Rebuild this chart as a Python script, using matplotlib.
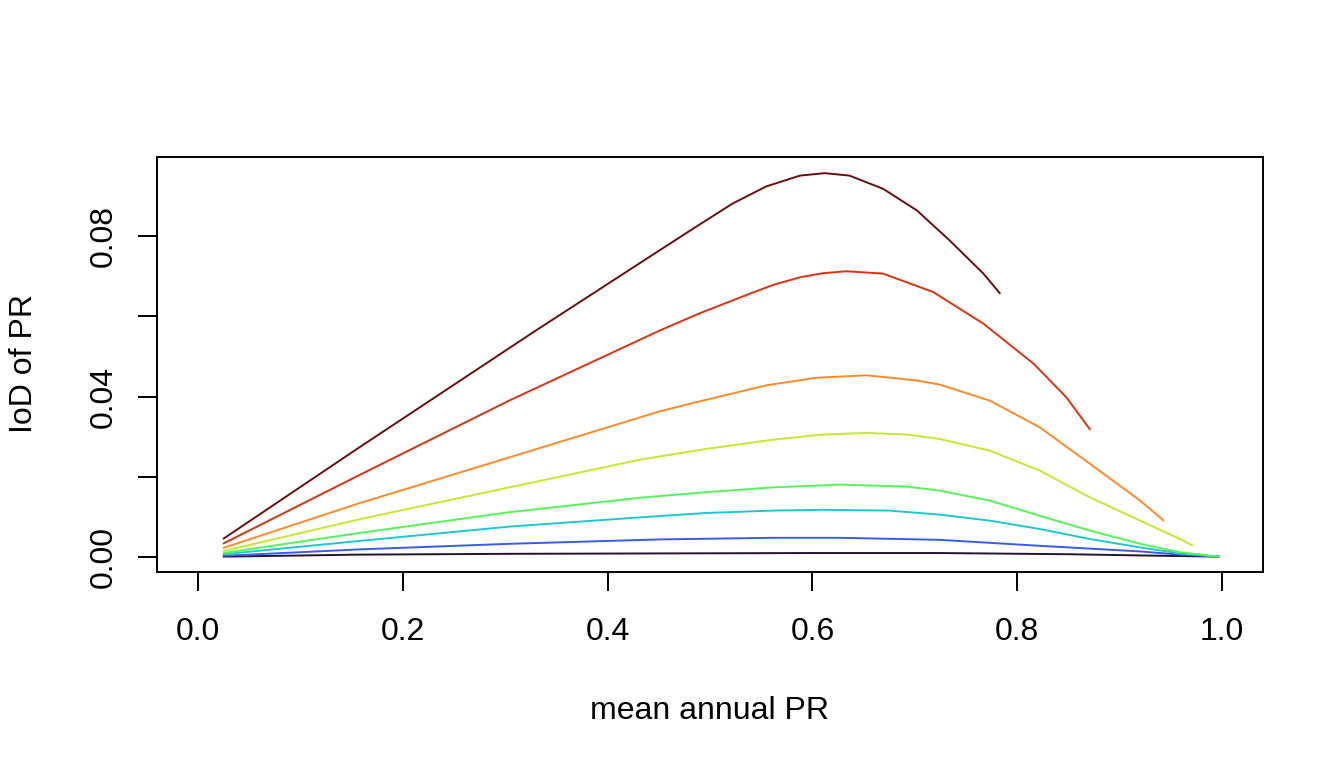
import matplotlib
matplotlib.use("Agg")
import matplotlib.pyplot as plt

plt.rcParams["font.family"] = ["Liberation Sans", "DejaVu Sans"]

# mean annual PR (x) and IoD of PR (y) for each curve
x_black = [0.025, 0.157, 0.304, 0.45, 0.6, 0.724, 0.85, 0.92, 0.997]
iod_black = [0.0, 0.0005, 0.0007, 0.0008, 0.0009, 0.0009, 0.0006, 0.0003, 0.0]

x_blue = [0.025, 0.157, 0.304, 0.451, 0.561, 0.627, 0.724, 0.822, 0.92, 0.959, 0.997]
iod_blue = [0.0002, 0.0018, 0.0032, 0.0043, 0.0047, 0.0047, 0.0042, 0.0027, 0.0013, 0.0005, 0.0]

x_cyan = [0.025, 0.157, 0.304, 0.431, 0.496, 0.561, 0.61, 0.675, 0.724, 0.773, 0.822, 0.871,
          0.92, 0.959, 0.997]
iod_cyan = [0.0006, 0.0039, 0.0075, 0.0098, 0.0109, 0.0115, 0.0117, 0.0115, 0.0105, 0.0090, 0.0069,
            0.0044, 0.0023, 0.0008, 0.0]

x_green = [0.025, 0.157, 0.304, 0.431, 0.496, 0.561, 0.627, 0.692, 0.724, 0.773, 0.822, 0.871,
           0.92, 0.959, 0.997]
iod_green = [0.0009, 0.0059, 0.0111, 0.0147, 0.0161, 0.0173, 0.0180, 0.0175, 0.0165, 0.0140, 0.0102,
             0.0065, 0.0032, 0.0011, 0.0]

x_yellow = [0.025, 0.157, 0.304, 0.431, 0.496, 0.561, 0.61, 0.653, 0.692, 0.724, 0.773, 0.822,
            0.871, 0.92, 0.959, 0.971]
iod_yellow = [0.0014, 0.0093, 0.0173, 0.0242, 0.0269, 0.0292, 0.0305, 0.0309, 0.0305, 0.0294, 0.0265,
              0.0215, 0.0148, 0.0090, 0.0044, 0.0028]

x_orange = [0.025, 0.157, 0.304, 0.451, 0.49, 0.555, 0.604, 0.653, 0.702, 0.724, 0.773, 0.822,
            0.871, 0.92, 0.943]
iod_orange = [0.0022, 0.0133, 0.0248, 0.0363, 0.0388, 0.0428, 0.0447, 0.0453, 0.0440, 0.0430, 0.0390,
              0.0323, 0.0232, 0.0140, 0.0090]

x_red = [0.025, 0.157, 0.304, 0.451, 0.49, 0.539, 0.563, 0.588, 0.61, 0.633, 0.669, 0.718, 0.767,
         0.816, 0.848, 0.871]
iod_red = [0.0033, 0.0203, 0.0390, 0.0565, 0.0608, 0.0657, 0.0680, 0.0698, 0.0708, 0.0713, 0.0707,
           0.0661, 0.0582, 0.0482, 0.0398, 0.0318]

x_darkred = [0.025, 0.157, 0.33, 0.45, 0.49, 0.522, 0.555, 0.588, 0.612, 0.636, 0.669, 0.702,
             0.734, 0.767, 0.783]
iod_darkred = [0.0045, 0.0272, 0.0565, 0.0764, 0.0830, 0.0882, 0.0925, 0.0952, 0.0958, 0.0952, 0.0919,
               0.0865, 0.0790, 0.0707, 0.0658]

series = [
    (x_black, iod_black, "#23132E"),
    (x_blue, iod_blue, "#3A5CE2"),
    (x_cyan, iod_cyan, "#1FC8CF"),
    (x_green, iod_green, "#55F55A"),
    (x_yellow, iod_yellow, "#C5E830"),
    (x_orange, iod_orange, "#FF8A2A"),
    (x_red, iod_red, "#DC3212"),
    (x_darkred, iod_darkred, "#6A0D0D"),
]

x_ticks = [0.0, 0.2, 0.4, 0.6, 0.8, 1.0]
x_tick_labels = ["0.0", "0.2", "0.4", "0.6", "0.8", "1.0"]
y_ticks = [0.0, 0.02, 0.04, 0.06, 0.08]
y_tick_labels = ["0.00", "", "0.04", "", "0.08"]

W, H = 1344, 768
fig = plt.figure(figsize=(W / 100, H / 100), dpi=100)
ax = fig.add_axes([157 / W, 1 - 572 / H, (1263 - 157) / W, (572 - 157) / H])

for xs, ys, col in series:
    ax.plot(xs, ys, color=col, linewidth=1.4, solid_capstyle="round", solid_joinstyle="round")

ax.set_xlim(-0.04, 1.04)
ax.set_ylim(-0.00384, 0.09984)
ax.set_xticks(x_ticks)
ax.set_xticklabels(x_tick_labels)
ax.set_yticks(y_ticks)
ax.set_yticklabels(y_tick_labels, rotation=90, va="center")

for s in ax.spines.values():
    s.set_linewidth(1.4)
    s.set_color("black")
ax.tick_params(axis="both", direction="out", length=13.5, width=1.4, labelsize=23, colors="black")
ax.tick_params(axis="x", pad=19)
ax.tick_params(axis="y", pad=14)

fig.text(710 / W, 1 - 711 / H, "mean annual PR", ha="center", va="center", fontsize=23)
fig.text(24 / W, 1 - 364 / H, "IoD of PR", ha="center", va="center", rotation=90, fontsize=23)

fig.savefig("out.png", dpi=100)
